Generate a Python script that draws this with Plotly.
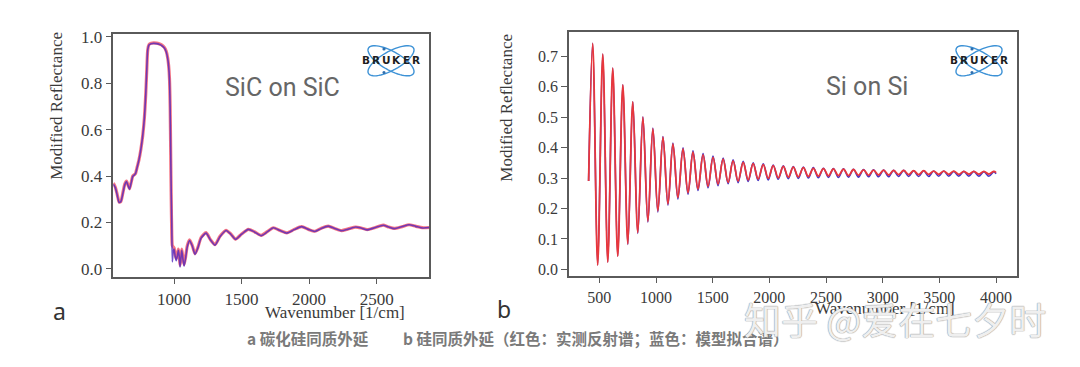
import numpy as np
import plotly.graph_objects as go

W, H = 1080, 367

# ---------------- data: SiC on SiC (panel a) ----------------
x_sic = [550, 565, 580, 593, 606, 620, 635, 648, 660, 670, 682, 694, 704, 714, 726,
         740, 754, 768, 780, 790, 798, 805, 815, 830, 850, 870, 890, 910, 928, 942,
         952, 960, 966, 971, 975, 979, 983, 987, 993, 1000, 1008, 1016, 1024, 1032, 1038,
         1044, 1050, 1057, 1065, 1074, 1085, 1098, 1115, 1135, 1155, 1175, 1200, 1237, 1270, 1303,
         1340, 1385, 1420, 1455, 1500, 1550, 1595, 1645, 1690, 1735, 1785, 1835, 1890, 1945, 1995,
         2043, 2090, 2141, 2190, 2240, 2290, 2345, 2385, 2430, 2490, 2548, 2590, 2630, 2690, 2740,
         2790, 2845, 2890]
y_sic_measured = [0.370, 0.352, 0.318, 0.288, 0.290, 0.325, 0.365, 0.378, 0.360, 0.345,
                  0.372, 0.400, 0.405, 0.410, 0.437, 0.470, 0.515, 0.575, 0.650, 0.750,
                  0.860, 0.945, 0.968, 0.973, 0.974, 0.973, 0.970, 0.965, 0.955, 0.938,
                  0.912, 0.875, 0.820, 0.700, 0.500, 0.300, 0.150, 0.100, 0.095, 0.090,
                  0.060, 0.045, 0.060, 0.085, 0.060, 0.015, 0.045, 0.085, 0.050, 0.018,
                  0.050, 0.100, 0.125, 0.100, 0.065, 0.090, 0.135, 0.156, 0.125, 0.104,
                  0.140, 0.166, 0.150, 0.128, 0.150, 0.170, 0.160, 0.144, 0.160, 0.177,
                  0.165, 0.155, 0.170, 0.182, 0.170, 0.162, 0.175, 0.184, 0.174, 0.165,
                  0.172, 0.180, 0.176, 0.169, 0.178, 0.188, 0.180, 0.174, 0.182, 0.190,
                  0.183, 0.177, 0.178]
y_sic_model = [0.365, 0.350, 0.315, 0.286, 0.290, 0.322, 0.362, 0.376, 0.358, 0.343,
               0.370, 0.398, 0.404, 0.410, 0.436, 0.470, 0.515, 0.575, 0.650, 0.750,
               0.860, 0.945, 0.966, 0.971, 0.972, 0.971, 0.968, 0.962, 0.952, 0.935,
               0.910, 0.872, 0.815, 0.690, 0.520, 0.330, 0.200, 0.030, 0.070, 0.085,
               0.055, 0.035, 0.055, 0.080, 0.055, 0.008, 0.040, 0.080, 0.045, 0.012,
               0.045, 0.095, 0.122, 0.098, 0.062, 0.088, 0.132, 0.154, 0.124, 0.102,
               0.138, 0.165, 0.149, 0.127, 0.149, 0.170, 0.159, 0.143, 0.159, 0.177,
               0.165, 0.154, 0.169, 0.182, 0.170, 0.161, 0.174, 0.184, 0.174, 0.164,
               0.171, 0.180, 0.176, 0.168, 0.178, 0.188, 0.180, 0.173, 0.182, 0.190,
               0.183, 0.176, 0.178]

# ---------------- data: Si on Si (panel b) ----------------
x_si = [405, 441, 485, 530, 574, 618, 662, 707, 751, 795, 839, 884, 928, 972, 1016,
        1061, 1105, 1149, 1193, 1238, 1282, 1326, 1370, 1415, 1459, 1503, 1547, 1592, 1636,
        1680, 1724, 1769, 1813, 1857, 1901, 1946, 1990, 2034, 2078, 2123, 2167, 2211, 2255,
        2300, 2344, 2388, 2432, 2477, 2521, 2565, 2609, 2654, 2698, 2742, 2786, 2831, 2875,
        2919, 2963, 3008, 3052, 3096, 3140, 3185, 3229, 3273, 3317, 3362, 3406, 3450, 3494,
        3539, 3583, 3627, 3671, 3716, 3760, 3804, 3848, 3893, 3937, 3981, 4000]
y_si_measured = [0.290, 0.742, 0.014, 0.707, 0.024, 0.661, 0.043, 0.606, 0.084, 0.550,
                 0.121, 0.500, 0.158, 0.462, 0.192, 0.434, 0.215, 0.412, 0.236, 0.396,
                 0.252, 0.385, 0.264, 0.376, 0.273, 0.368, 0.280, 0.362, 0.286, 0.356,
                 0.290, 0.351, 0.294, 0.347, 0.297, 0.344, 0.299, 0.341, 0.301, 0.338,
                 0.303, 0.336, 0.304, 0.334, 0.305, 0.332, 0.306, 0.331, 0.307, 0.330,
                 0.308, 0.329, 0.308, 0.328, 0.309, 0.327, 0.309, 0.326, 0.310, 0.326,
                 0.310, 0.325, 0.311, 0.325, 0.311, 0.324, 0.311, 0.324, 0.312, 0.323,
                 0.312, 0.323, 0.312, 0.323, 0.312, 0.322, 0.313, 0.322, 0.313, 0.322,
                 0.313, 0.322, 0.318]
y_si_model = [0.290, 0.742, 0.014, 0.707, 0.024, 0.661, 0.043, 0.606, 0.082, 0.550,
              0.118, 0.501, 0.155, 0.464, 0.188, 0.436, 0.211, 0.415, 0.231, 0.399,
              0.247, 0.389, 0.259, 0.380, 0.268, 0.372, 0.275, 0.366, 0.281, 0.360,
              0.285, 0.355, 0.289, 0.350, 0.292, 0.347, 0.294, 0.343, 0.296, 0.340,
              0.298, 0.338, 0.299, 0.336, 0.300, 0.334, 0.301, 0.332, 0.302, 0.331,
              0.302, 0.330, 0.303, 0.329, 0.303, 0.328, 0.304, 0.327, 0.304, 0.326,
              0.304, 0.325, 0.305, 0.325, 0.305, 0.324, 0.305, 0.324, 0.305, 0.323,
              0.306, 0.323, 0.306, 0.322, 0.306, 0.322, 0.306, 0.322, 0.306, 0.321,
              0.306, 0.321, 0.314]

yticks_a = [0.0, 0.2, 0.4, 0.6, 0.8, 1.0]
xticks_a = [1000, 1500, 2000, 2500]
yticks_b = [0.0, 0.1, 0.2, 0.3, 0.4, 0.5, 0.6, 0.7]
xticks_b = [500, 1000, 1500, 2000, 2500, 3000, 3500, 4000]

n = min(len(x_sic), len(y_sic_measured), len(y_sic_model))
x_sic, y_sic_measured, y_sic_model = x_sic[:n], y_sic_measured[:n], y_sic_model[:n]
m = min(len(x_si), len(y_si_measured), len(y_si_model))
x_si, y_si_measured, y_si_model = x_si[:m], y_si_measured[:m], y_si_model[:m]


def px(x):
    return x / W


def py(y):
    return 1 - y / H


fig = go.Figure()
# panel a: red under, blue on top
fig.add_trace(go.Scatter(x=x_sic, y=y_sic_measured, mode="lines", xaxis="x", yaxis="y",
                         line=dict(color="rgba(240,70,90,0.75)", width=3.2, shape="spline", smoothing=0.6),
                         showlegend=False, hoverinfo="skip"))
fig.add_trace(go.Scatter(x=x_sic, y=y_sic_model, mode="lines", xaxis="x", yaxis="y",
                         line=dict(color="rgba(80,40,190,0.8)", width=1.6, shape="spline", smoothing=0.6),
                         showlegend=False, hoverinfo="skip"))
# panel b: blue under, red on top
fig.add_trace(go.Scatter(x=x_si, y=y_si_model, mode="lines", xaxis="x2", yaxis="y2",
                         line=dict(color="rgba(50,30,190,0.9)", width=1.6, shape="spline", smoothing=1.0),
                         showlegend=False, hoverinfo="skip"))
fig.add_trace(go.Scatter(x=x_si, y=y_si_measured, mode="lines", xaxis="x2", yaxis="y2",
                         line=dict(color="rgb(232,55,60)", width=1.8, shape="spline", smoothing=1.0),
                         showlegend=False, hoverinfo="skip"))

tickfont = dict(family="Liberation Serif, Times New Roman, serif", size=17, color="#3a3a3a")
axcommon = dict(showgrid=False, zeroline=False, showline=True, linecolor="#5a5a5a", linewidth=1.5,
                mirror=True, ticks="outside", ticklen=6, tickwidth=1.3, tickcolor="#5a5a5a",
                tickfont=tickfont)

fig.update_layout(
    width=W, height=H, autosize=False,
    margin=dict(l=0, r=0, t=0, b=0),
    paper_bgcolor="white", plot_bgcolor="white",
    xaxis=dict(domain=[px(113.3), px(429.3)], range=[550, 2890], tickvals=xticks_a,
               anchor="y", **axcommon),
    yaxis=dict(domain=[py(276.7), py(28.3)], range=[-0.034, 1.014], tickvals=yticks_a,
               tickformat=".1f", anchor="x", **axcommon),
    xaxis2=dict(domain=[px(569), px(1017)], range=[232, 4185], tickvals=xticks_b,
                anchor="y2", **{**axcommon, "tickfont": dict(tickfont, size=16)}),
    yaxis2=dict(domain=[py(275.7), py(26.7)], range=[-0.0206, 0.779], tickvals=yticks_b,
                tickformat=".1f", anchor="x2", **{**axcommon, "tickfont": dict(tickfont, size=16)}),
)

serif = "Liberation Serif, Times New Roman, serif"
ann = []


def add_text(x, y, text, size, color, family, angle=0, xanchor="center", weight=None, shadow=None, pad=1):
    f = dict(size=size, color=color, family=family)
    if weight:
        f["weight"] = weight
    if shadow:
        f["shadow"] = shadow
    ann.append(dict(x=px(x), y=py(y), xref="paper", yref="paper", text=text, showarrow=False,
                    font=f, textangle=angle, xanchor=xanchor, yanchor="middle", borderpad=pad))


# axis titles
add_text(56.5, 102.5, "Modified Reflectance", 17, "#3a3a3a", serif, angle=-90)
add_text(507, 104, "Modified Reflectance", 17, "#3a3a3a", serif, angle=-90)
add_text(335, 313, "Wavenumber [1/cm]", 17, "#3a3a3a", serif)
add_text(885, 309, "Wavenumber [1/cm]", 17, "#3a3a3a", serif)

# panel labels
add_text(59, 312, "a", 23, "#333333", "Noto Sans, sans-serif")
add_text(504, 310, "b", 23, "#333333", "Noto Sans, sans-serif")

# inside labels
add_text(282, 83, "SiC on SiC", 25, "#666666", "Roboto, sans-serif")
add_text(867, 82, "Si on Si", 25, "#666666", "Roboto, sans-serif")

# caption
add_text(245, 339, "a 碳化硅同质外延", 15.5, "#7a7a7a", "Noto Sans CJK SC", xanchor="left", weight="bold")
add_text(401, 339, "b 硅同质外延（红色：实测反射谱；蓝色：模型拟合谱）", 15.5, "#7a7a7a",
         "Noto Sans CJK SC", xanchor="left", weight="bold")

# watermark
add_text(895, 320, "知乎 @爱在七夕时", 37, "rgba(255,255,255,0.85)", "Noto Sans CJK SC",
         shadow="0 0 1px #9a9a9a, 0 0 1px #9a9a9a, 0 0 1px #9a9a9a")

# BRUKER logos (decoration)
shapes = []


def ellipse_path(cx, cy, a, b, ang):
    t = np.linspace(0, 2 * np.pi, 60)
    ca, sa = np.cos(ang), np.sin(ang)
    xs = cx + a * np.cos(t) * ca - b * np.sin(t) * sa
    ys = cy + a * np.cos(t) * sa + b * np.sin(t) * ca
    pts = [f"{px(xx):.5f},{py(yy):.5f}" for xx, yy in zip(xs, ys)]
    return "M " + " L ".join(pts) + " Z"


def logo(cx, cy):
    for ang in (np.radians(30), np.radians(-30)):
        shapes.append(dict(type="path", xref="paper", yref="paper", path=ellipse_path(cx, cy, 26, 9.5, ang),
                           line=dict(color="#3d92d6", width=1.4), fillcolor="rgba(0,0,0,0)", layer="above"))
    for dx, dy in ((-7, -12), (-7, 12)):
        shapes.append(dict(type="circle", xref="paper", yref="paper",
                           x0=px(cx + dx - 1.6), x1=px(cx + dx + 1.6), y0=py(cy + dy + 1.6), y1=py(cy + dy - 1.6),
                           fillcolor="#2f6fae", line=dict(width=0), layer="above"))
    letters = "BRUKER"
    for i, ch in enumerate(letters):
        add_text(cx - 25 + i * 10, cy - 0.5, f"<b>{ch}</b>", 10.5, "#1e1e1e", "DejaVu Sans, sans-serif", pad=0)


logo(391, 56)
logo(979, 56)

fig.update_layout(annotations=ann, shapes=shapes)
fig.write_html("out.html", config={"displayModeBar": False},
               post_script="document.body.style.margin='0px';")
